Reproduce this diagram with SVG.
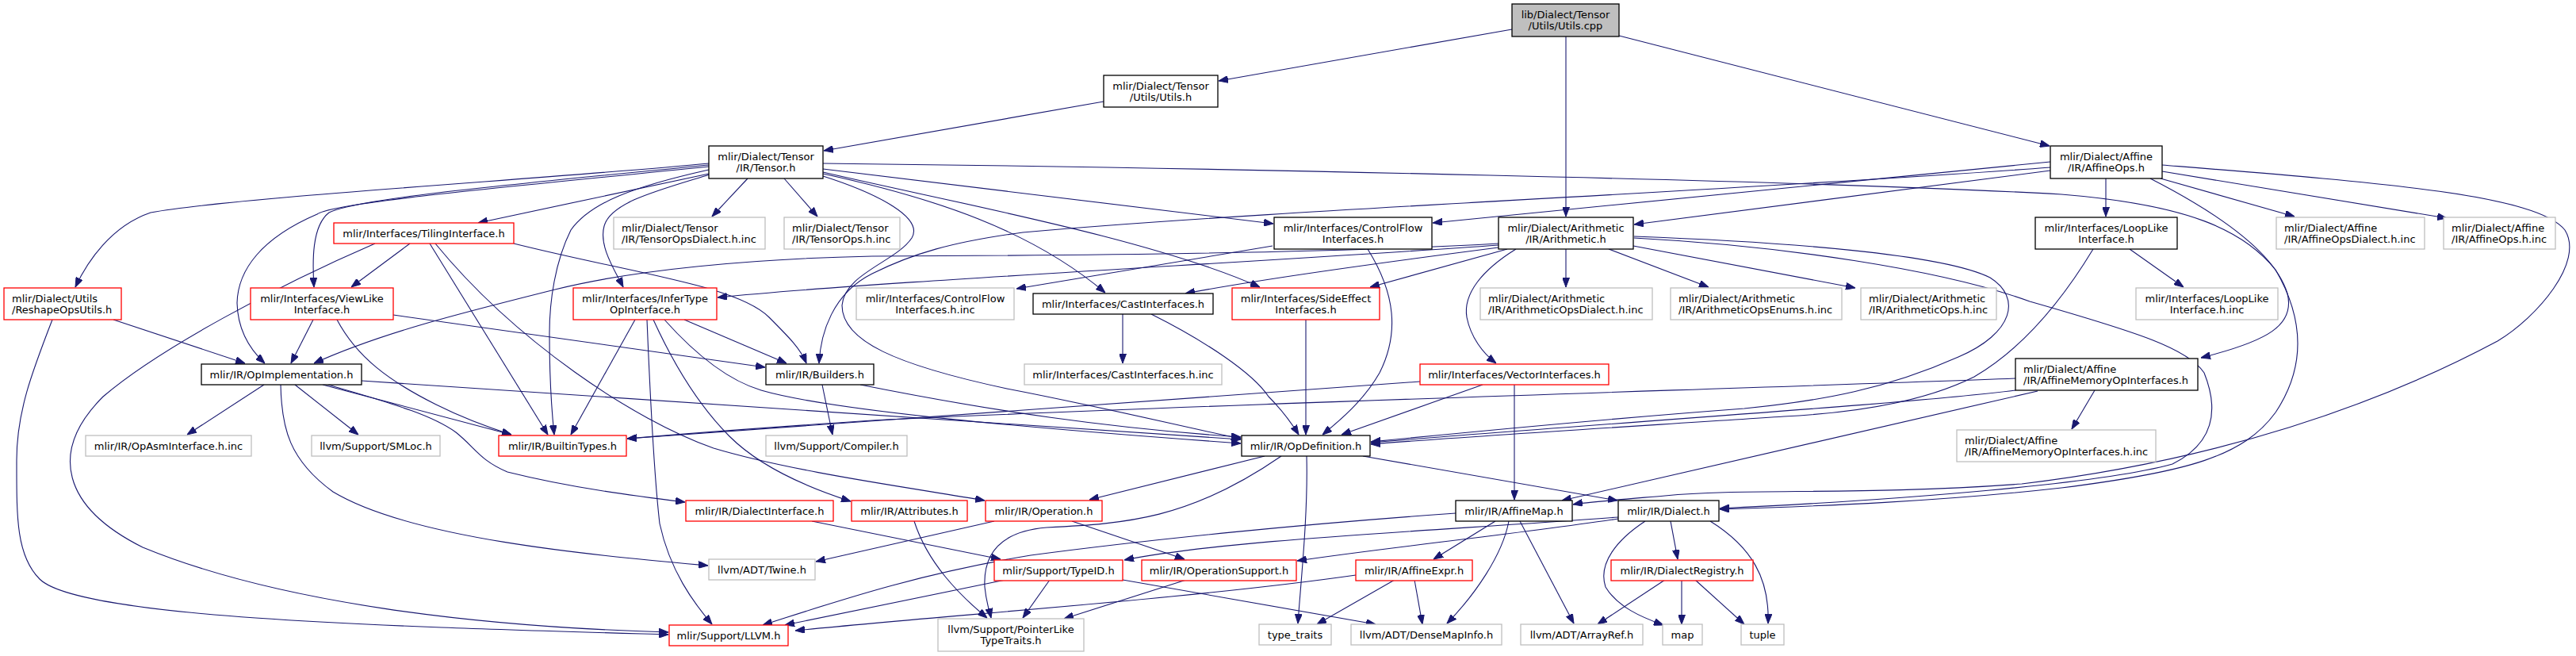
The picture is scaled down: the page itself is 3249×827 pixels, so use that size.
<svg xmlns="http://www.w3.org/2000/svg" width="3249" height="827" viewBox="0 0 3249 827">
<style>
.n rect{fill:#fff;stroke:#000;stroke-width:1.3}
.n.r rect{stroke:#f00}
.n.g rect{stroke:#bfbfbf}
.n.root rect{fill:#bfbfbf;stroke:#000}
text{font-family:"DejaVu Sans","Liberation Sans",sans-serif;font-size:13px;fill:#000}
.m{text-anchor:middle}
#edges path{fill:none;stroke:#191970;stroke-width:1.1;marker-end:url(#a)}
</style>
<defs>
<marker id="a" markerWidth="12" markerHeight="9" refX="12" refY="4.5" orient="auto" markerUnits="userSpaceOnUse"><path d="M0,0 L12,4.5 L0,9 z" fill="#191970" stroke="#191970" stroke-width="1"/></marker>
</defs>
<rect width="3249" height="827" fill="#fff"/>
<g id="edges">
<path d="M1907,37 L1537,102"/>
<path d="M1975,46 L1975,273"/>
<path d="M2042,45 L2585,184"/>
<path d="M1392,128 L1039,190"/>
<path d="M894,206 C700,225 300,248 190,268 C140,285 110,330 95,362"/>
<path d="M894,208 C650,232 450,250 415,268 C393,285 394,330 396,362"/>
<path d="M894,210 C650,235 420,255 400,270 C330,300 300,340 299,382 C300,420 320,445 334,458"/>
<path d="M894,219 L603,281"/>
<path d="M894,214 C800,235 745,255 720,290 C700,330 693,380 693,420 C693,480 696,520 699,548"/>
<path d="M895,220 C830,240 770,255 762,285 C755,310 775,340 786,362"/>
<path d="M943,225 L898,273"/>
<path d="M989,225 L1031,273"/>
<path d="M1038,213 L1606,282"/>
<path d="M1038,217 C1200,255 1450,300 1589,362"/>
<path d="M1038,219 C1180,250 1300,290 1394,369"/>
<path d="M1038,222 C1110,245 1165,275 1150,300 C1130,330 1065,345 1062,385 C1062,430 1130,460 1270,490 C1400,515 1500,540 1565,553"/>
<path d="M1038,206 C1500,211 2300,228 2600,245 C2760,258 2830,290 2870,340 C2905,400 2910,460 2870,520 C2830,575 2760,595 2600,615 C2450,632 2300,638 2169,642"/>
<path d="M2727,208 C3000,230 3200,245 3235,290 C3260,330 3200,400 3150,430 C3000,510 2800,580 2550,610 C2350,625 2200,615 2100,625 C2040,630 2000,633 1984,636"/>
<path d="M2586,204 L1807,281"/>
<path d="M2586,211 C2200,240 1600,265 1290,293 C1200,305 1150,320 1100,345 C1050,370 1035,420 1033,458"/>
<path d="M2586,215 L2061,283"/>
<path d="M2656,225 L2656,273"/>
<path d="M2725,225 L2894,273"/>
<path d="M2727,216 L3086,275"/>
<path d="M2712,225 C2800,270 2870,320 2885,370 C2895,410 2860,430 2776,451"/>
<path d="M517,307 L443,362"/>
<path d="M542,307 L691,548"/>
<path d="M549,307 C650,430 800,530 900,565 C1000,595 1150,615 1242,631"/>
<path d="M473,307 C350,360 200,440 130,500 C60,570 80,640 180,690 C350,760 600,790 843,797"/>
<path d="M648,307 C800,345 930,360 970,400 C995,425 1010,440 1017,458"/>
<path d="M395,403 L367,458"/>
<path d="M425,403 C450,450 490,480 550,510 C590,530 620,540 645,548"/>
<path d="M496,397 L965,463"/>
<path d="M143,403 L309,458"/>
<path d="M66,403 C40,470 21,520 21,580 C21,650 20,700 50,730 C100,780 500,790 843,800"/>
<path d="M801,403 L720,548"/>
<path d="M863,403 L992,458"/>
<path d="M838,403 C880,450 920,480 960,492 C1050,518 1300,540 1565,559"/>
<path d="M824,403 C850,460 880,510 920,550 C960,590 1020,615 1073,632"/>
<path d="M816,403 C820,500 825,600 832,660 C845,720 875,760 898,787"/>
<path d="M1890,307 C1700,318 1400,322 1100,323 C950,326 800,340 700,365 C580,395 480,420 396,458"/>
<path d="M1890,309 C1600,330 1100,355 905,375"/>
<path d="M1890,312 C1750,330 1600,350 1495,370"/>
<path d="M1901,314 L1728,362"/>
<path d="M1912,314 C1870,340 1845,370 1850,400 C1855,425 1870,445 1887,458"/>
<path d="M1975,314 L1975,362"/>
<path d="M2029,314 L2155,362"/>
<path d="M2060,310 L2340,363"/>
<path d="M2061,298 C2250,305 2450,320 2510,350 C2550,375 2540,420 2470,450 C2380,490 2300,505 2200,515 C2000,530 1850,545 1729,557"/>
<path d="M2061,300 C2250,310 2450,340 2560,380 C2700,420 2760,440 2780,470 C2800,520 2790,560 2740,585 C2650,610 2400,630 2169,641"/>
<path d="M1416,396 L1416,458"/>
<path d="M1452,396 C1520,430 1580,470 1600,500 C1620,520 1630,535 1638,548"/>
<path d="M1605,310 L1282,364"/>
<path d="M1725,314 C1760,370 1765,420 1740,470 C1720,505 1690,530 1668,548"/>
<path d="M1647,403 L1647,548"/>
<path d="M2686,314 L2754,362"/>
<path d="M2640,314 C2600,380 2550,440 2490,475 C2430,505 2350,520 2250,525 C2100,535 1850,550 1729,560"/>
<path d="M2642,492 L2613,541"/>
<path d="M2542,477 C2200,490 1500,510 1100,530 C950,540 860,547 791,553"/>
<path d="M2542,492 C2400,510 2000,535 1729,558"/>
<path d="M2570,493 L1970,631"/>
<path d="M1910,485 L1910,630"/>
<path d="M1870,485 L1692,548"/>
<path d="M1791,481 L791,553"/>
<path d="M333,485 L236,548"/>
<path d="M372,485 L452,548"/>
<path d="M407,485 L645,548"/>
<path d="M414,485 C480,505 540,520 575,545 C600,565 605,580 640,595 C720,615 800,625 864,633"/>
<path d="M354,485 C355,540 365,580 420,620 C520,680 750,700 893,713"/>
<path d="M456,480 L1565,554"/>
<path d="M1037,485 L1050,548"/>
<path d="M1085,485 C1250,518 1400,540 1565,551"/>
<path d="M1595,575 L1374,630"/>
<path d="M1616,575 C1500,655 1420,660 1320,665 C1260,670 1240,700 1242,740 C1244,760 1248,770 1250,779"/>
<path d="M1648,575 C1650,650 1640,740 1637,786"/>
<path d="M1719,575 L2040,631"/>
<path d="M1254,657 L1029,708"/>
<path d="M1352,657 L1494,705"/>
<path d="M1024,657 L1262,705"/>
<path d="M1153,657 C1170,710 1210,750 1245,779"/>
<path d="M1836,647 C1650,660 1450,680 1300,700 C1150,725 1050,760 962,788"/>
<path d="M1886,657 L1808,705"/>
<path d="M1903,657 C1895,700 1860,750 1825,786"/>
<path d="M1917,657 L1985,786"/>
<path d="M2041,652 C1800,670 1550,680 1418,706"/>
<path d="M2041,654 C1900,675 1750,690 1636,707"/>
<path d="M2107,657 L2116,705"/>
<path d="M2075,657 C2040,680 2015,710 2025,740 C2040,765 2070,778 2098,788"/>
<path d="M2157,657 C2210,690 2232,730 2230,786"/>
<path d="M1268,731 C1150,755 1050,775 990,788"/>
<path d="M1324,731 L1290,779"/>
<path d="M1416,731 L1735,787"/>
<path d="M1496,731 L1342,780"/>
<path d="M1710,725 C1500,755 1200,775 1003,795"/>
<path d="M1759,731 L1661,787"/>
<path d="M1784,731 L1794,787"/>
<path d="M2100,731 L2015,787"/>
<path d="M2121,731 L2121,787"/>
<path d="M2138,731 L2200,787"/>
</g>
<g id="n_cpp" class="n root"><rect x="1907" y="5" width="135" height="41"/><text class="m" x="1974.5" y="23">lib/Dialect/Tensor</text><text class="m" x="1974.5" y="37">/Utils/Utils.cpp</text></g>
<g id="n_utilsh" class="n"><rect x="1392" y="95" width="144" height="40"/><text class="m" x="1464" y="113">mlir/Dialect/Tensor</text><text class="m" x="1464" y="127">/Utils/Utils.h</text></g>
<g id="n_tensor" class="n"><rect x="894" y="184" width="144" height="41"/><text class="m" x="966" y="202">mlir/Dialect/Tensor</text><text class="m" x="966" y="216">/IR/Tensor.h</text></g>
<g id="n_affops" class="n"><rect x="2586" y="184" width="141" height="41"/><text class="m" x="2656.5" y="202">mlir/Dialect/Affine</text><text class="m" x="2656.5" y="216">/IR/AffineOps.h</text></g>
<g id="n_tiling" class="n r"><rect x="421" y="281" width="227" height="26"/><text class="m" x="534.5" y="299">mlir/Interfaces/TilingInterface.h</text></g>
<g id="n_tdial" class="n g"><rect x="774" y="274" width="191" height="40"/><text x="784" y="292">mlir/Dialect/Tensor</text><text x="784" y="306">/IR/TensorOpsDialect.h.inc</text></g>
<g id="n_tops" class="n g"><rect x="989" y="274" width="146" height="40"/><text x="999" y="292">mlir/Dialect/Tensor</text><text x="999" y="306">/IR/TensorOps.h.inc</text></g>
<g id="n_cfi" class="n"><rect x="1607" y="274" width="199" height="40"/><text class="m" x="1706.5" y="292">mlir/Interfaces/ControlFlow</text><text class="m" x="1706.5" y="306">Interfaces.h</text></g>
<g id="n_arith" class="n"><rect x="1890" y="274" width="170" height="40"/><text class="m" x="1975" y="292">mlir/Dialect/Arithmetic</text><text class="m" x="1975" y="306">/IR/Arithmetic.h</text></g>
<g id="n_llike" class="n"><rect x="2567" y="274" width="179" height="40"/><text class="m" x="2656.5" y="292">mlir/Interfaces/LoopLike</text><text class="m" x="2656.5" y="306">Interface.h</text></g>
<g id="n_affdial" class="n g"><rect x="2871" y="274" width="187" height="40"/><text x="2881" y="292">mlir/Dialect/Affine</text><text x="2881" y="306">/IR/AffineOpsDialect.h.inc</text></g>
<g id="n_affopsinc" class="n g"><rect x="3082" y="274" width="141" height="40"/><text x="3092" y="292">mlir/Dialect/Affine</text><text x="3092" y="306">/IR/AffineOps.h.inc</text></g>
<g id="n_reshape" class="n r"><rect x="5" y="363" width="148" height="40"/><text x="15" y="381">mlir/Dialect/Utils</text><text x="15" y="395">/ReshapeOpsUtils.h</text></g>
<g id="n_viewlike" class="n r"><rect x="316" y="363" width="180" height="40"/><text class="m" x="406" y="381">mlir/Interfaces/ViewLike</text><text class="m" x="406" y="395">Interface.h</text></g>
<g id="n_infer" class="n r"><rect x="723" y="363" width="181" height="40"/><text class="m" x="813.5" y="381">mlir/Interfaces/InferType</text><text class="m" x="813.5" y="395">OpInterface.h</text></g>
<g id="n_cfiinc" class="n g"><rect x="1080" y="363" width="199" height="40"/><text class="m" x="1179.5" y="381">mlir/Interfaces/ControlFlow</text><text class="m" x="1179.5" y="395">Interfaces.h.inc</text></g>
<g id="n_cast" class="n"><rect x="1303" y="370" width="227" height="26"/><text class="m" x="1416.5" y="388">mlir/Interfaces/CastInterfaces.h</text></g>
<g id="n_side" class="n r"><rect x="1554" y="363" width="186" height="40"/><text class="m" x="1647" y="381">mlir/Interfaces/SideEffect</text><text class="m" x="1647" y="395">Interfaces.h</text></g>
<g id="n_arithdial" class="n g"><rect x="1867" y="363" width="217" height="40"/><text x="1877" y="381">mlir/Dialect/Arithmetic</text><text x="1877" y="395">/IR/ArithmeticOpsDialect.h.inc</text></g>
<g id="n_arithenums" class="n g"><rect x="2107" y="363" width="216" height="40"/><text x="2117" y="381">mlir/Dialect/Arithmetic</text><text x="2117" y="395">/IR/ArithmeticOpsEnums.h.inc</text></g>
<g id="n_arithops" class="n g"><rect x="2347" y="363" width="171" height="40"/><text x="2357" y="381">mlir/Dialect/Arithmetic</text><text x="2357" y="395">/IR/ArithmeticOps.h.inc</text></g>
<g id="n_llikeinc" class="n g"><rect x="2694" y="363" width="179" height="40"/><text class="m" x="2783.5" y="381">mlir/Interfaces/LoopLike</text><text class="m" x="2783.5" y="395">Interface.h.inc</text></g>
<g id="n_opimpl" class="n"><rect x="254" y="459" width="202" height="26"/><text class="m" x="355" y="477">mlir/IR/OpImplementation.h</text></g>
<g id="n_builders" class="n"><rect x="966" y="459" width="136" height="26"/><text class="m" x="1034" y="477">mlir/IR/Builders.h</text></g>
<g id="n_castinc" class="n g"><rect x="1292" y="459" width="249" height="26"/><text class="m" x="1416.5" y="477">mlir/Interfaces/CastInterfaces.h.inc</text></g>
<g id="n_vector" class="n r"><rect x="1791" y="459" width="238" height="26"/><text class="m" x="1910" y="477">mlir/Interfaces/VectorInterfaces.h</text></g>
<g id="n_affmem" class="n"><rect x="2542" y="452" width="230" height="40"/><text x="2552" y="470">mlir/Dialect/Affine</text><text x="2552" y="484">/IR/AffineMemoryOpInterfaces.h</text></g>
<g id="n_oasm" class="n g"><rect x="108" y="549" width="209" height="26"/><text class="m" x="212.5" y="567">mlir/IR/OpAsmInterface.h.inc</text></g>
<g id="n_smloc" class="n g"><rect x="393" y="549" width="162" height="26"/><text class="m" x="474" y="567">llvm/Support/SMLoc.h</text></g>
<g id="n_builtin" class="n r"><rect x="629" y="549" width="161" height="26"/><text class="m" x="709.5" y="567">mlir/IR/BuiltinTypes.h</text></g>
<g id="n_compiler" class="n g"><rect x="966" y="549" width="178" height="26"/><text class="m" x="1055" y="567">llvm/Support/Compiler.h</text></g>
<g id="n_opdef" class="n"><rect x="1566" y="549" width="162" height="26"/><text class="m" x="1647" y="567">mlir/IR/OpDefinition.h</text></g>
<g id="n_affmeminc" class="n g"><rect x="2468" y="542" width="251" height="40"/><text x="2478" y="560">mlir/Dialect/Affine</text><text x="2478" y="574">/IR/AffineMemoryOpInterfaces.h.inc</text></g>
<g id="n_dialiface" class="n r"><rect x="865" y="631" width="186" height="26"/><text class="m" x="958" y="649">mlir/IR/DialectInterface.h</text></g>
<g id="n_attrs" class="n r"><rect x="1074" y="631" width="146" height="26"/><text class="m" x="1147" y="649">mlir/IR/Attributes.h</text></g>
<g id="n_operation" class="n r"><rect x="1243" y="631" width="147" height="26"/><text class="m" x="1316.5" y="649">mlir/IR/Operation.h</text></g>
<g id="n_affmap" class="n"><rect x="1836" y="631" width="147" height="26"/><text class="m" x="1909.5" y="649">mlir/IR/AffineMap.h</text></g>
<g id="n_dialect" class="n"><rect x="2041" y="631" width="127" height="26"/><text class="m" x="2104.5" y="649">mlir/IR/Dialect.h</text></g>
<g id="n_twine" class="n g"><rect x="894" y="705" width="134" height="26"/><text class="m" x="961" y="723">llvm/ADT/Twine.h</text></g>
<g id="n_typeid" class="n r"><rect x="1254" y="706" width="162" height="26"/><text class="m" x="1335" y="724">mlir/Support/TypeID.h</text></g>
<g id="n_opsupport" class="n r"><rect x="1440" y="706" width="195" height="26"/><text class="m" x="1537.5" y="724">mlir/IR/OperationSupport.h</text></g>
<g id="n_affexpr" class="n r"><rect x="1710" y="706" width="147" height="26"/><text class="m" x="1783.5" y="724">mlir/IR/AffineExpr.h</text></g>
<g id="n_dreg" class="n r"><rect x="2032" y="706" width="179" height="26"/><text class="m" x="2121.5" y="724">mlir/IR/DialectRegistry.h</text></g>
<g id="n_llvm" class="n r"><rect x="844" y="788" width="150" height="26"/><text class="m" x="919" y="806">mlir/Support/LLVM.h</text></g>
<g id="n_ptrlike" class="n g"><rect x="1183" y="780" width="184" height="41"/><text class="m" x="1275" y="798">llvm/Support/PointerLike</text><text class="m" x="1275" y="812">TypeTraits.h</text></g>
<g id="n_ttraits" class="n g"><rect x="1588" y="787" width="91" height="26"/><text class="m" x="1633.5" y="805">type_traits</text></g>
<g id="n_densemap" class="n g"><rect x="1704" y="787" width="190" height="26"/><text class="m" x="1799" y="805">llvm/ADT/DenseMapInfo.h</text></g>
<g id="n_arrayref" class="n g"><rect x="1918" y="787" width="154" height="26"/><text class="m" x="1995" y="805">llvm/ADT/ArrayRef.h</text></g>
<g id="n_map" class="n g"><rect x="2097" y="787" width="50" height="26"/><text class="m" x="2122" y="805">map</text></g>
<g id="n_tuple" class="n g"><rect x="2196" y="787" width="54" height="26"/><text class="m" x="2223" y="805">tuple</text></g>
</svg>
